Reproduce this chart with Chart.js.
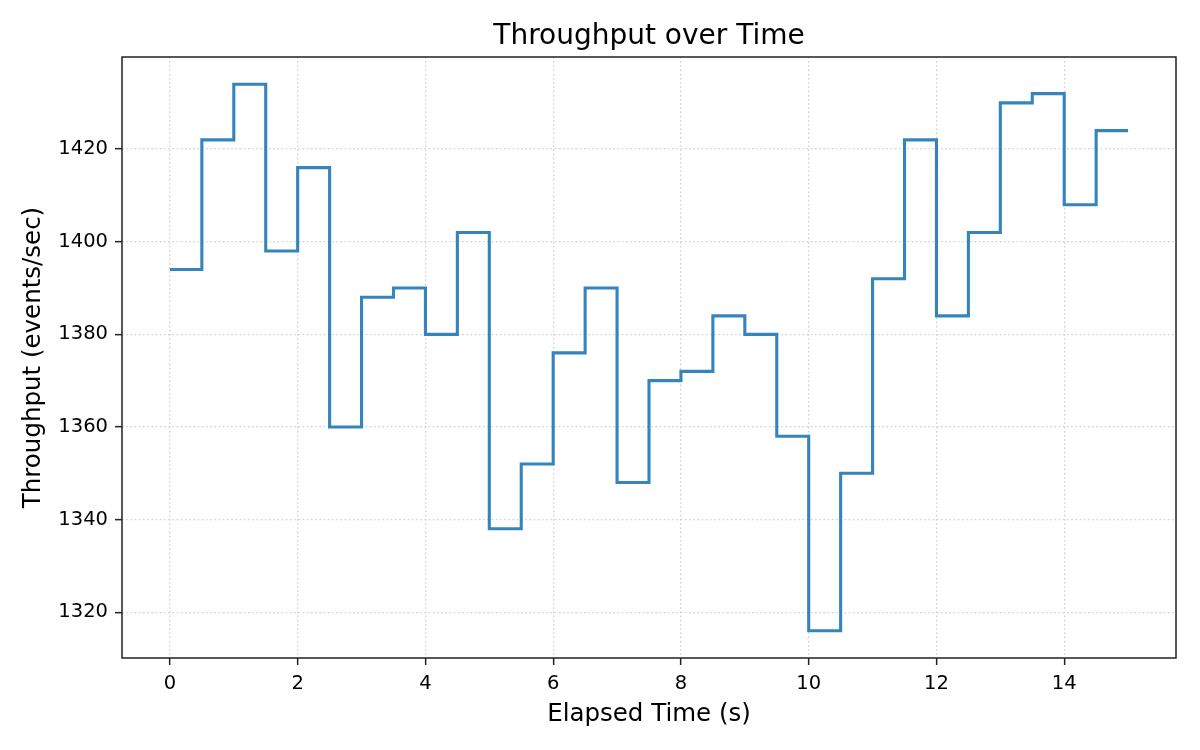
<!DOCTYPE html>
<html>
<head>
<meta charset="utf-8">
<title>Throughput over Time</title>
<script src="https://cdn.jsdelivr.net/npm/chart.js@4/dist/chart.umd.min.js"></script>
<style>
  html, body { margin: 0; padding: 0; background: #fff; }
  #wrap { width: 1200px; height: 750px; position: relative; }
</style>
</head>
<body>
<div id="wrap"><canvas id="chart" width="1200" height="750"></canvas></div>
<script>
// Throughput step plot, one sample every half second.
const times = [0, 0.5, 1, 1.5, 2, 2.5, 3, 3.5, 4, 4.5, 5, 5.5, 6, 6.5, 7, 7.5,
  8, 8.5, 9, 9.5, 10, 10.5, 11, 11.5, 12, 12.5, 13, 13.5, 14, 14.5, 15];
const throughput = [1394, 1422, 1434, 1398, 1416, 1360, 1388, 1390, 1380, 1402,
  1338, 1352, 1376, 1390, 1348, 1370, 1372, 1384, 1380, 1358,
  1316, 1350, 1392, 1422, 1384, 1402, 1430, 1432, 1408, 1424, 1424];
const xTicks = [0, 2, 4, 6, 8, 10, 12, 14];
const yTicks = [1320, 1340, 1360, 1380, 1400, 1420];

const FONT = "'DejaVu Sans', sans-serif";
const GRID = "#d0d0d0";
const INK = "#222";

// axes frame (matplotlib-style spines)
const frame = {
  id: "frame",
  afterDatasetsDraw(c) {
    const { left, top, right, bottom } = c.chartArea;
    const ctx = c.ctx;
    ctx.save();
    ctx.strokeStyle = INK;
    ctx.lineWidth = 1.5;
    ctx.strokeRect(left, top, right - left, bottom - top);
    ctx.restore();
  },
};

const gridOpts = { color: GRID, lineWidth: 1.3, tickColor: INK, tickLength: 7, tickWidth: 1.5 };

new Chart(document.getElementById("chart"), {
  type: "line",
  data: {
    datasets: [{
      data: times.map((t, i) => ({ x: t, y: throughput[i] })),
      borderColor: "rgba(31,119,180,0.9)",
      borderWidth: 3.1,
      stepped: true,
      pointRadius: 0,
      fill: false,
    }],
  },
  options: {
    responsive: false,
    animation: false,
    devicePixelRatio: 1,
    layout: { padding: { left: 0, right: 24, top: 0, bottom: 0 } },
    plugins: {
      legend: { display: false },
      tooltip: { enabled: false },
      title: {
        display: true,
        fullSize: false,
        text: "Throughput over Time",
        color: "#000",
        font: { family: FONT, size: 28, weight: "normal", lineHeight: 1.2 },
        padding: { top: 19.7, bottom: 3.7 },
      },
    },
    scales: {
      x: {
        type: "linear",
        min: -0.75,
        max: 15.75,
        afterBuildTicks: (s) => { s.ticks = xTicks.map((v) => ({ value: v })); },
        afterFit: (s) => { s.height = 92; },
        ticks: { color: "#000", font: { family: FONT, size: 19.5 }, padding: 7, maxRotation: 0,
          autoSkip: false, callback: (v) => String(v) },
        grid: gridOpts,
        border: { display: false, dash: [1.6, 2.6] },
        title: {
          display: true,
          text: "Elapsed Time (s)",
          color: "#000",
          font: { family: FONT, size: 24.5, lineHeight: 1.2 },
          padding: { top: 0, bottom: 21 },
        },
      },
      y: {
        min: 1310.1,
        max: 1439.9,
        afterBuildTicks: (s) => { s.ticks = yTicks.map((v) => ({ value: v })); },
        afterFit: (s) => { s.width = 122; },
        ticks: { color: "#000", font: { family: FONT, size: 19.5 }, padding: 7,
          autoSkip: false, callback: (v) => String(v) },
        grid: gridOpts,
        border: { display: false, dash: [1.6, 2.6] },
        title: {
          display: true,
          text: "Throughput (events/sec)",
          color: "#000",
          font: { family: FONT, size: 24.5, lineHeight: 1.2 },
          padding: { top: 18.5, bottom: 0 },
        },
      },
    },
  },
  plugins: [frame],
});
</script>
</body>
</html>
